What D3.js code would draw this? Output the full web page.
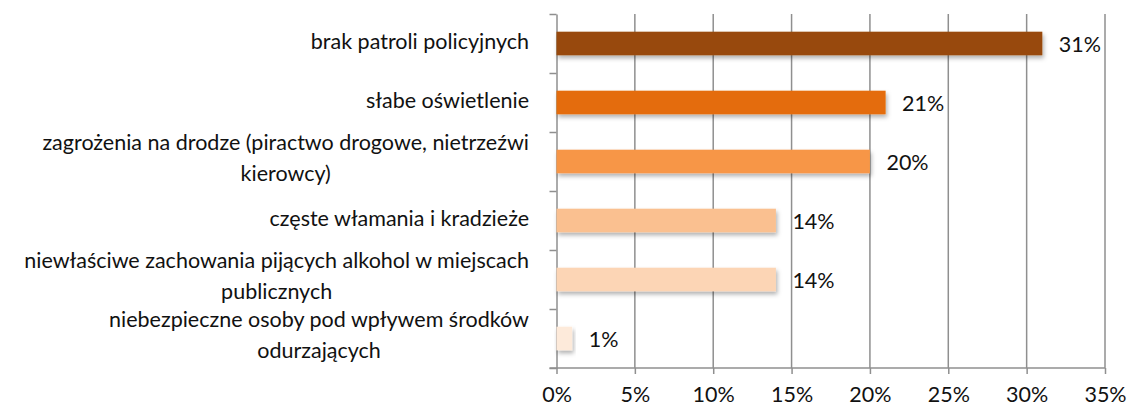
<!DOCTYPE html>
<html>
<head>
<meta charset="utf-8">
<script src="https://cdn.jsdelivr.net/npm/d3@7"></script>
<style>
  body { margin: 0; background: #fff; }
  text { font-family: Lato, "Open Sans", sans-serif; fill: #111; }
</style>
</head>
<body>
<div id="chart"></div>
<script>
// data
const categories = [
  "brak patroli policyjnych",
  "słabe oświetlenie",
  "zagrożenia na drodze (piractwo drogowe, nietrzeźwi\nkierowcy)",
  "częste włamania i kradzieże",
  "niewłaściwe zachowania pijących alkohol w miejscach\npublicznych",
  "niebezpieczne osoby pod wpływem środków\nodurzających"
];
const values = [0.31, 0.21, 0.20, 0.14, 0.14, 0.01];
const barColors = ["#984807", "#E46C0A", "#F79646", "#FAC090", "#FCD5B5", "#FDEADA"];
const xTicks = [0, 0.05, 0.10, 0.15, 0.20, 0.25, 0.30, 0.35];

const width = 1129, height = 408;
const margin = { top: 14, bottom: 40, left: 556.5, right: 24 };
const fontSize = 21.5;

const svg = d3.select('#chart')
  .append('svg')
  .attr('width', width)
  .attr('height', height);

// soft shadow under the bars
const filter = svg.append('defs').append('filter')
  .attr('id', 'shadow')
  .attr('x', '-10%').attr('y', '-30%')
  .attr('width', '130%').attr('height', '180%');
filter.append('feDropShadow')
  .attr('dx', 1.5).attr('dy', 3)
  .attr('stdDeviation', 2)
  .attr('flood-color', '#000')
  .attr('flood-opacity', 0.3);

let xScale = d3.scaleLinear()
  .domain([0, 0.35])
  .range([margin.left, width - margin.right]);

let yScale = d3.scaleBand()
  .domain(categories)
  .range([margin.top, height - margin.bottom])
  .padding(0);

const plotBottom = height - margin.bottom;
const barH = yScale.bandwidth() * 0.4;
const gridColor = '#8f8f8f';

// vertical gridlines
svg.append('g')
  .selectAll('line')
  .data(xTicks.slice(1))
  .enter().append('line')
  .attr('x1', d => xScale(d)).attr('x2', d => xScale(d))
  .attr('y1', margin.top).attr('y2', plotBottom)
  .attr('stroke', gridColor)
  .attr('stroke-width', 1.5);

// x axis
let xAxis = svg.append('g')
  .attr('transform', `translate(0,${plotBottom})`)
  .call(d3.axisBottom(xScale)
    .tickValues(xTicks)
    .tickFormat(d3.format('.0%'))
    .tickSize(6)
    .tickSizeOuter(0));
xAxis.select('.domain').remove();
xAxis.append('line')
  .attr('x1', margin.left - 7).attr('x2', xScale(0.35))
  .attr('stroke', gridColor).attr('stroke-width', 1.5);
xAxis.selectAll('.tick line').attr('stroke', gridColor).attr('stroke-width', 1.5);
xAxis.selectAll('.tick text')
  .attr('y', 0).attr('dy', null)
  .attr('transform', 'translate(0,34)')
  .style('font-family', 'Lato')
  .style('font-size', fontSize + 'px')
  .attr('fill', '#111');

// y axis with ticks on band boundaries
const yEdges = d3.scaleLinear().domain([0, categories.length]).range([margin.top, plotBottom]);
let yAxis = svg.append('g')
  .attr('transform', `translate(${margin.left},0)`)
  .call(d3.axisLeft(yEdges)
    .ticks(categories.length)
    .tickFormat('')
    .tickSize(7)
    .tickSizeOuter(0));
yAxis.select('.domain').attr('stroke', gridColor).attr('stroke-width', 1.5);
yAxis.selectAll('.tick line').attr('stroke', gridColor).attr('stroke-width', 1.5);

// bars
svg.append('g')
  .selectAll('rect')
  .data(categories)
  .enter().append('rect')
  .attr('x', xScale(0))
  .attr('y', d => yScale(d) + (yScale.bandwidth() - barH) / 2)
  .attr('width', (d, i) => xScale(values[i]) - xScale(0))
  .attr('height', barH)
  .attr('fill', (d, i) => barColors[i])
  .attr('filter', 'url(#shadow)');

// value labels
svg.append('g')
  .selectAll('text')
  .data(categories)
  .enter().append('text')
  .attr('x', (d, i) => xScale(values[i]) + 16.5)
  .attr('y', d => yScale(d) + yScale.bandwidth() / 2 + 8.5)
  .style('font-size', fontSize + 'px')
  .text((d, i) => Math.round(values[i] * 100) + '%');

// category labels: right aligned block, wrapped lines centred on each other
const labelRight = 529;
const lineGap = 31;
categories.forEach(function(c) {
  const lines = c.split('\n');
  const mid = yScale(c) + yScale.bandwidth() / 2 - (lines.length > 1 ? 2 : 0);
  const g = svg.append('g');
  const texts = lines.map((l, j) => g.append('text')
    .attr('y', mid + (j - (lines.length - 1) / 2) * lineGap + 5.5)
    .style('font-size', fontSize + 'px')
    .text(l));
  const widest = d3.max(texts, t => t.node().getComputedTextLength());
  texts.forEach(t => t
    .attr('x', labelRight - widest / 2)
    .attr('text-anchor', 'middle'));
});
</script>
</body>
</html>
